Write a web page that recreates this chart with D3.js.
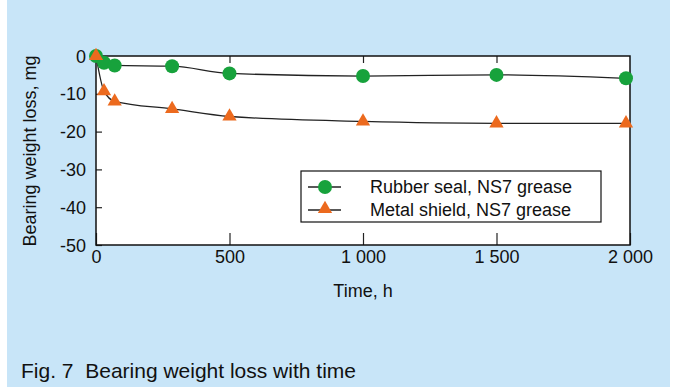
<!DOCTYPE html>
<html>
<head>
<meta charset="utf-8">
<script src="https://cdn.jsdelivr.net/npm/d3@7"></script>
<style>
  html, body { margin: 0; padding: 0; background: #ffffff; }
  svg { display: block; }
  text { font-family: "Liberation Sans", Arial, Helvetica, sans-serif; fill: #111; }
</style>
</head>
<body>
<svg id="chart" width="674" height="387"></svg>
<script>
// Test duration in hours
const hours = [0, 30, 70, 285, 500, 1000, 1500, 1985];
// Bearing weight loss, mg
const rubberSeal = [0, -1.8, -2.5, -2.7, -4.6, -5.3, -5.0, -5.9];
const metalShield = [0, -9.3, -12.0, -14.0, -16.0, -17.3, -17.8, -17.8];
const xTicks = [0, 500, 1000, 1500, 2000];
const yTicks = [0, -10, -20, -30, -40, -50];
const seriesNames = ["Rubber seal, NS7 grease", "Metal shield, NS7 grease"];

const GREEN = "#17a23c", ORANGE = "#ec6a1e", BG = "#c8e5f8";
const FONT = "Liberation Sans, Arial, sans-serif";

const svg = d3.select("#chart");
svg.append("rect").attr("x", 7).attr("y", 0).attr("width", 663).attr("height", 387).attr("fill", BG);

const plot = { left: 96, right: 630, top: 56, bottom: 245 };
const x = d3.scaleLinear().domain([0, 2000]).range([plot.left, plot.right]);
const y = d3.scaleLinear().domain([-50, 0]).range([plot.bottom, plot.top]);

// plot area
svg.append("rect")
  .attr("x", plot.left).attr("y", plot.top)
  .attr("width", plot.right - plot.left).attr("height", plot.bottom - plot.top)
  .attr("fill", "#fff");

// bottom axis: tick labels below, tick marks point into the plot
const xAxis = svg.append("g").attr("transform", `translate(0,${plot.bottom})`)
  .call(d3.axisBottom(x).tickValues(xTicks).tickSize(-12).tickPadding(5)
    .tickFormat(d => d3.format(",")(d).replace(",", " ")));
xAxis.select(".domain").remove();
xAxis.selectAll(".tick line").attr("stroke", "#222").attr("stroke-width", 1.2);
xAxis.selectAll(".tick text").attr("font-size", 18).attr("font-family", FONT).attr("fill", "#111");

// short ticks hanging from the top frame
svg.append("g").attr("transform", `translate(0,${plot.top})`)
  .call(d3.axisTop(x).tickValues(xTicks.slice(1, -1)).tickSize(-7).tickFormat(""))
  .call(g => g.select(".domain").remove())
  .selectAll(".tick line").attr("stroke", "#222").attr("stroke-width", 1.2);

// left axis (plain hyphen minus signs)
const yAxis = svg.append("g").attr("transform", `translate(${plot.left},0)`)
  .call(d3.axisLeft(y).tickValues(yTicks).tickSize(-6).tickPadding(10).tickFormat(d => String(d)));
yAxis.select(".domain").remove();
yAxis.selectAll(".tick line").attr("stroke", "#222").attr("stroke-width", 1.2);
yAxis.selectAll(".tick text").attr("font-size", 18).attr("font-family", FONT).attr("fill", "#111")
  .attr("dy", "0.34em");

// series lines
const line = d3.line().x((d, i) => x(hours[i])).y(d => y(d)).curve(d3.curveMonotoneX);
[rubberSeal, metalShield].forEach(vals => {
  svg.append("path").datum(vals).attr("d", line)
    .attr("fill", "none").attr("stroke", "#222").attr("stroke-width", 1.3);
});

// frame
svg.append("rect")
  .attr("x", plot.left).attr("y", plot.top)
  .attr("width", plot.right - plot.left).attr("height", plot.bottom - plot.top)
  .attr("fill", "none").attr("stroke", "#111").attr("stroke-width", 1.5);

const tri = d3.symbol().type(d3.symbolTriangle).size(88);

// markers
svg.append("g").selectAll("circle").data(rubberSeal).join("circle")
  .attr("cx", (d, i) => x(hours[i])).attr("cy", d => y(d)).attr("r", 7).attr("fill", GREEN);
svg.append("g").selectAll("path").data(metalShield).join("path")
  .attr("d", tri).attr("transform", (d, i) => `translate(${x(hours[i])},${y(d)})`).attr("fill", ORANGE);

// legend
const lg = svg.append("g");
lg.append("rect").attr("x", 301).attr("y", 171).attr("width", 300).attr("height", 51)
  .attr("fill", "#fff").attr("stroke", "#111").attr("stroke-width", 1.2);
const rows = [187, 210];
rows.forEach((ry, i) => {
  lg.append("line").attr("x1", 308).attr("x2", 341).attr("y1", ry).attr("y2", ry)
    .attr("stroke", "#222").attr("stroke-width", 1.3);
  if (i === 0) lg.append("circle").attr("cx", 325).attr("cy", ry).attr("r", 7).attr("fill", GREEN);
  else lg.append("path").attr("d", tri).attr("transform", `translate(325,${ry - 1})`).attr("fill", ORANGE);
  lg.append("text").attr("x", 370).attr("y", ry).attr("dy", "0.35em").attr("font-size", 18).text(seriesNames[i]);
});

// axis titles
svg.append("text").attr("x", x(1000)).attr("y", 297).attr("text-anchor", "middle").attr("font-size", 18).text("Time, h");
svg.append("text").attr("transform", "translate(36,151) rotate(-90)").attr("text-anchor", "middle")
  .attr("font-size", 18).text("Bearing weight loss, mg");

// caption
svg.append("text").attr("x", 21).attr("y", 378).attr("font-size", 21).text("Fig. 7  Bearing weight loss with time")
  .style("white-space", "pre");
</script>
</body>
</html>
